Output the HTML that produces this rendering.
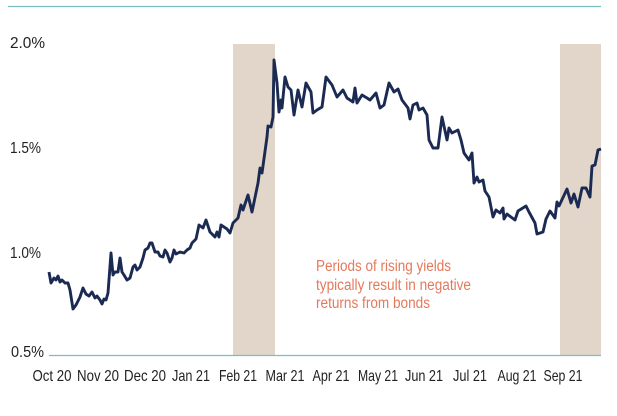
<!DOCTYPE html>
<html><head><meta charset="utf-8"><style>
html,body{margin:0;padding:0;background:#fff;}
svg{display:block;font-family:"Liberation Sans Narrow","Liberation Sans",sans-serif;}
</style></head><body>
<svg width="617" height="416" viewBox="0 0 617 416" xmlns="http://www.w3.org/2000/svg">
<line x1="8" y1="6.5" x2="601" y2="6.5" stroke="#7bbfc0" stroke-width="1.2"/>
<rect x="233" y="44" width="42" height="311" fill="#e1d6c9"/>
<rect x="560" y="44" width="41" height="311" fill="#e1d6c9"/>
<line x1="49" y1="355.5" x2="601" y2="355.5" stroke="#7bbfc0" stroke-width="1.2"/>
<g font-size="16" fill="#222">
<text x="10" y="48" textLength="35" lengthAdjust="spacingAndGlyphs">2.0%</text>
<text x="10" y="153" textLength="31" lengthAdjust="spacingAndGlyphs">1.5%</text>
<text x="10" y="258" textLength="31" lengthAdjust="spacingAndGlyphs">1.0%</text>
<text x="11" y="357" textLength="33" lengthAdjust="spacingAndGlyphs">0.5%</text>
</g>
<g font-size="16" fill="#222" text-anchor="middle">
<text x="52" y="381" textLength="39" lengthAdjust="spacingAndGlyphs">Oct 20</text>
<text x="98" y="381" textLength="42" lengthAdjust="spacingAndGlyphs">Nov 20</text>
<text x="145" y="381" textLength="42" lengthAdjust="spacingAndGlyphs">Dec 20</text>
<text x="191" y="381" textLength="38" lengthAdjust="spacingAndGlyphs">Jan 21</text>
<text x="238" y="381" textLength="38" lengthAdjust="spacingAndGlyphs">Feb 21</text>
<text x="285" y="381" textLength="39" lengthAdjust="spacingAndGlyphs">Mar 21</text>
<text x="331" y="381" textLength="37" lengthAdjust="spacingAndGlyphs">Apr 21</text>
<text x="378" y="381" textLength="40" lengthAdjust="spacingAndGlyphs">May 21</text>
<text x="424" y="381" textLength="38" lengthAdjust="spacingAndGlyphs">Jun 21</text>
<text x="470" y="381" textLength="34" lengthAdjust="spacingAndGlyphs">Jul 21</text>
<text x="517" y="381" textLength="39" lengthAdjust="spacingAndGlyphs">Aug 21</text>
<text x="563" y="381" textLength="39" lengthAdjust="spacingAndGlyphs">Sep 21</text>
</g>
<g font-size="15.5" fill="#e4795c">
<text x="316" y="271" textLength="135" lengthAdjust="spacingAndGlyphs">Periods of rising yields</text>
<text x="316" y="290" textLength="155" lengthAdjust="spacingAndGlyphs">typically result in negative</text>
<text x="316" y="308" textLength="114" lengthAdjust="spacingAndGlyphs">returns from bonds</text>
</g>
<polyline fill="none" stroke="#1b2a52" stroke-width="2.9" stroke-linejoin="round" points="49,272 51,283 54,278 56,280 58,276 60,282 62,280 65,283 68,283 70,290 73,309 76,305 80,297 83,288 86,294 89,296 92,292 95,298 97,296 100,300 102,304 104,299 106,300 108,293 111,253 113,275 115,272 118,272 120,258 122,272 124,275 127,280 130,278 133,267 135,265 137,270 140,267 143,258 145,250 148,248 150,243 152,243 155,252 158,252 160,256 163,257 165,250 167,253 170,262 172,258 174,250 176,254 180,252 184,253 187,250 190,248 192,243 196,239 199,225 203,228 206,220 210,232 215,237 217,232 219,237 221,225 227,229 230,233 233,223 238,218 241,205 243,210 248,195 252,212 258,183 260,168 262,173 267,137 268,126 271,127 273,117 274,60 277,83 279,112 281,100 282,108 285,77 288,87 291,90 294,115 298,90 302,107 306,83 311,92 313,113 317,110 322,107 326,77 332,85 337,97 343,90 347,98 353,102 355,88 357,103 362,95 367,98 370,100 376,93 380,108 384,105 389,83 394,92 398,89 402,100 408,108 410,119 413,105 417,103 419,110 423,108 427,115 429,140 433,148 438,148 442,117 447,140 449,128 452,133 458,130 461,140 464,153 469,160 472,153 474,183 477,177 479,182 483,180 485,191 489,197 493,217 496,210 500,213 503,208 504,219 507,214 515,220 518,211 526,206 529,212 535,223 537,234 543,232 546,219 550,211 555,218 557,202 559,206 567,189 571,203 574,194 578,207 582,188 586,188 590,197 592,166 595,165 598,150 601,149"/>
</svg>
</body></html>
